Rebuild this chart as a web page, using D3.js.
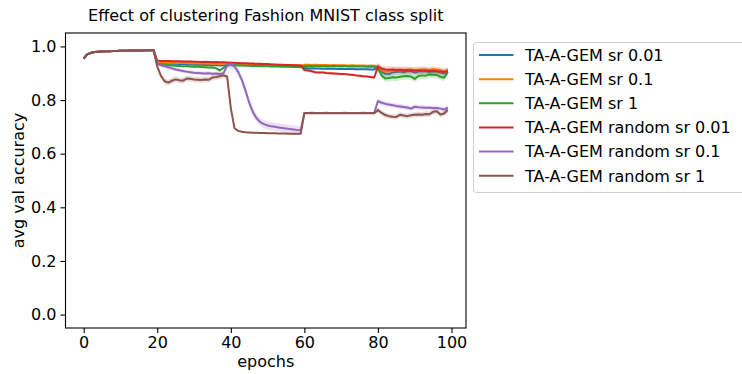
<!DOCTYPE html>
<html>
<head>
<meta charset="utf-8">
<script src="https://cdn.jsdelivr.net/npm/d3@7"></script>
<style>
  body { margin: 0; background: #fff; }
  svg { font-family: "DejaVu Sans", sans-serif; }
</style>
</head>
<body>
<div id="chart"></div>
<script>
// ---- data ----
const epochs = d3.range(0, 100);
const seriesNames = [
  "TA-A-GEM sr 0.01",
  "TA-A-GEM sr 0.1",
  "TA-A-GEM sr 1",
  "TA-A-GEM random sr 0.01",
  "TA-A-GEM random sr 0.1",
  "TA-A-GEM random sr 1"
];
const seriesColors = ["#1f77b4", "#ff7f0e", "#2ca02c", "#d62728", "#9467bd", "#8c564b"];

// first task, identical for all runs
const firstTask = [0.955, 0.971, 0.976, 0.979, 0.980, 0.981, 0.982, 0.982, 0.983, 0.983,
                   0.984, 0.984, 0.984, 0.985, 0.985, 0.985, 0.985, 0.986, 0.986, 0.986];

const srSmall = firstTask.concat([
  0.938, 0.937, 0.936, 0.936, 0.935, 0.935, 0.934, 0.934, 0.933, 0.933, 0.932, 0.932, 0.932, 0.931, 0.931, 0.930, 0.931, 0.929, 0.930, 0.933,
  0.934, 0.933, 0.933, 0.932, 0.932, 0.931, 0.931, 0.930, 0.930, 0.930, 0.929, 0.929, 0.929, 0.928, 0.928, 0.928, 0.927, 0.927, 0.927, 0.926,
  0.920, 0.918, 0.919, 0.918, 0.918, 0.917, 0.918, 0.917, 0.917, 0.916, 0.917, 0.916, 0.916, 0.916, 0.915, 0.915, 0.915, 0.915, 0.914, 0.914,
  0.922, 0.905, 0.898, 0.897, 0.903, 0.905, 0.906, 0.904, 0.907, 0.908, 0.902, 0.906, 0.908, 0.907, 0.905, 0.907, 0.906, 0.903, 0.900, 0.905
]);
const srMid = firstTask.concat([
  0.941, 0.940, 0.940, 0.939, 0.939, 0.939, 0.938, 0.938, 0.938, 0.937, 0.937, 0.937, 0.936, 0.936, 0.936, 0.935, 0.936, 0.934, 0.935, 0.937,
  0.936, 0.935, 0.935, 0.934, 0.934, 0.934, 0.933, 0.933, 0.933, 0.932, 0.932, 0.932, 0.931, 0.931, 0.931, 0.930, 0.930, 0.930, 0.929, 0.929,
  0.932, 0.932, 0.931, 0.932, 0.931, 0.931, 0.931, 0.930, 0.931, 0.930, 0.930, 0.930, 0.929, 0.930, 0.929, 0.929, 0.929, 0.928, 0.929, 0.928,
  0.925, 0.912, 0.905, 0.908, 0.910, 0.912, 0.910, 0.913, 0.911, 0.914, 0.908, 0.912, 0.914, 0.913, 0.911, 0.915, 0.913, 0.910, 0.906, 0.912
]);
const srOne = firstTask.concat([
  0.934, 0.932, 0.931, 0.930, 0.929, 0.928, 0.927, 0.926, 0.926, 0.925, 0.924, 0.924, 0.923, 0.922, 0.921, 0.921, 0.919, 0.910, 0.920, 0.929,
  0.931, 0.930, 0.929, 0.929, 0.928, 0.928, 0.927, 0.927, 0.926, 0.926, 0.926, 0.925, 0.925, 0.925, 0.924, 0.924, 0.924, 0.923, 0.923, 0.922,
  0.927, 0.928, 0.927, 0.928, 0.927, 0.927, 0.927, 0.926, 0.927, 0.926, 0.926, 0.926, 0.925, 0.926, 0.925, 0.925, 0.925, 0.924, 0.925, 0.924,
  0.918, 0.892, 0.880, 0.882, 0.885, 0.884, 0.887, 0.889, 0.890, 0.888, 0.879, 0.890, 0.892, 0.891, 0.895, 0.894, 0.893, 0.887, 0.883, 0.905
]);
const randSmall = firstTask.concat([
  0.947, 0.946, 0.946, 0.946, 0.945, 0.945, 0.945, 0.944, 0.944, 0.944, 0.943, 0.943, 0.942, 0.943, 0.942, 0.941, 0.942, 0.941, 0.941, 0.940,
  0.939, 0.939, 0.938, 0.937, 0.937, 0.936, 0.936, 0.935, 0.935, 0.934, 0.934, 0.933, 0.933, 0.932, 0.932, 0.931, 0.931, 0.930, 0.930, 0.929,
  0.912, 0.910, 0.907, 0.904, 0.903, 0.903, 0.901, 0.900, 0.899, 0.898, 0.897, 0.897, 0.895, 0.894, 0.892, 0.891, 0.889, 0.888, 0.886, 0.884,
  0.925, 0.918, 0.914, 0.913, 0.914, 0.912, 0.913, 0.911, 0.912, 0.910, 0.911, 0.910, 0.909, 0.910, 0.908, 0.909, 0.907, 0.906, 0.905, 0.908
]);
const randMid = firstTask.concat([
  0.935, 0.930, 0.926, 0.922, 0.918, 0.914, 0.911, 0.908, 0.906, 0.904, 0.902, 0.901, 0.900, 0.899, 0.900, 0.898, 0.899, 0.897, 0.900, 0.928,
  0.932, 0.925, 0.905, 0.875, 0.835, 0.790, 0.755, 0.732, 0.718, 0.710, 0.705, 0.702, 0.700, 0.698, 0.696, 0.694, 0.692, 0.690, 0.688, 0.687,
  0.752, 0.752, 0.753, 0.752, 0.752, 0.752, 0.753, 0.752, 0.752, 0.752, 0.752, 0.753, 0.752, 0.752, 0.752, 0.752, 0.753, 0.752, 0.752, 0.752,
  0.796, 0.790, 0.786, 0.783, 0.781, 0.778, 0.776, 0.774, 0.772, 0.768, 0.775, 0.773, 0.772, 0.771, 0.771, 0.770, 0.770, 0.768, 0.765, 0.772
]);
const randOne = firstTask.concat([
  0.925, 0.890, 0.870, 0.865, 0.872, 0.877, 0.874, 0.872, 0.880, 0.879, 0.877, 0.876, 0.875, 0.877, 0.876, 0.884, 0.886, 0.889, 0.892, 0.888,
  0.770, 0.695, 0.685, 0.682, 0.680, 0.679, 0.678, 0.678, 0.677, 0.677, 0.676, 0.676, 0.676, 0.675, 0.675, 0.675, 0.674, 0.674, 0.674, 0.674,
  0.751, 0.751, 0.751, 0.751, 0.751, 0.751, 0.751, 0.751, 0.751, 0.751, 0.751, 0.751, 0.751, 0.751, 0.751, 0.751, 0.751, 0.751, 0.751, 0.751,
  0.763, 0.752, 0.744, 0.740, 0.738, 0.737, 0.745, 0.742, 0.740, 0.743, 0.745, 0.746, 0.745, 0.748, 0.747, 0.756, 0.758, 0.746, 0.750, 0.764
]);
const seriesValues = [srSmall, srMid, srOne, randSmall, randMid, randOne];

// spread of the shaded band, one value per task (20 epochs each)
const seriesSpread = [
  [0.001, 0.004, 0.003, 0.004, 0.012],
  [0.001, 0.004, 0.003, 0.003, 0.012],
  [0.001, 0.004, 0.003, 0.003, 0.013],
  [0.001, 0.003, 0.003, 0.005, 0.012],
  [0.001, 0.007, 0.015, 0.002, 0.009],
  [0.001, 0.011, 0.003, 0.002, 0.010]
];

const xTicks = [0, 20, 40, 60, 80, 100];
const yTicks = [0.0, 0.2, 0.4, 0.6, 0.8, 1.0];

// ---- layout ----
const W = 742, H = 374;
const plot = { left: 65.5, right: 466, top: 33, bottom: 328 };

const svg = d3.select("#chart").append("svg")
  .attr("width", W).attr("height", H);

const x = d3.scaleLinear().domain([-4.95, 103.95]).range([plot.left, plot.right]);
const y = d3.scaleLinear().domain([-0.05, 1.05]).range([plot.bottom, plot.top]);

// series lines + bands
const data = seriesNames.map((name, i) => ({
  name: name,
  color: seriesColors[i],
  points: epochs.map((e, j) => ({
    e: e,
    v: seriesValues[i][j],
    s: seriesSpread[i][Math.floor(j / 20)]
  }))
}));

const line = d3.line().x(d => x(d.e)).y(d => y(d.v));
const area = d3.area().x(d => x(d.e)).y0(d => y(d.v - d.s)).y1(d => y(d.v + d.s));

const marks = svg.append("g")
  .attr("clip-path", "url(#clip)");
svg.append("clipPath").attr("id", "clip").append("rect")
  .attr("x", plot.left).attr("y", plot.top)
  .attr("width", plot.right - plot.left).attr("height", plot.bottom - plot.top);

data.forEach(d => {
  marks.append("path")
    .attr("d", line(d.points))
    .attr("fill", "none")
    .attr("stroke", d.color)
    .attr("stroke-width", 2)
    .attr("stroke-linejoin", "round");
  marks.append("path")
    .attr("d", area(d.points))
    .attr("fill", d.color)
    .attr("fill-opacity", 0.2)
    .attr("stroke", "none");
});

// axes
const xAxis = svg.append("g")
  .attr("transform", `translate(0,${plot.bottom})`)
  .call(d3.axisBottom(x).tickValues(xTicks).tickFormat(d3.format("d")).tickSize(5).tickPadding(4));
const yAxis = svg.append("g")
  .attr("transform", `translate(${plot.left},0)`)
  .call(d3.axisLeft(y).tickValues(yTicks).tickFormat(d3.format(".1f")).tickSize(5).tickPadding(4));

[xAxis, yAxis].forEach(a => {
  a.select(".domain").remove();
  a.selectAll("line").attr("stroke", "#000").attr("stroke-width", 1.1);
  a.selectAll("text").attr("font-family", "DejaVu Sans").attr("font-size", 16).attr("fill", "#000");
});

// frame
svg.append("rect")
  .attr("x", plot.left).attr("y", plot.top)
  .attr("width", plot.right - plot.left).attr("height", plot.bottom - plot.top)
  .attr("fill", "none").attr("stroke", "#000").attr("stroke-width", 1.1);

// title + labels
svg.append("text")
  .attr("x", (plot.left + plot.right) / 2).attr("y", 21)
  .attr("text-anchor", "middle")
  .attr("font-size", 16)
  .text("Effect of clustering Fashion MNIST class split");

svg.append("text")
  .attr("x", (plot.left + plot.right) / 2).attr("y", 367)
  .attr("text-anchor", "middle")
  .attr("font-size", 16)
  .text("epochs");

svg.append("text")
  .attr("transform", `translate(24,${(plot.top + plot.bottom) / 2}) rotate(-90)`)
  .attr("text-anchor", "middle")
  .attr("font-size", 16)
  .text("avg val accuracy");

// legend
const legend = svg.append("g").attr("transform", "translate(473.5,42.5)");
legend.append("rect")
  .attr("width", 290).attr("height", 150)
  .attr("rx", 3)
  .attr("fill", "#fff").attr("fill-opacity", 0.8)
  .attr("stroke", "#d0d0d0").attr("stroke-width", 1);

data.forEach((d, i) => {
  const row = legend.append("g").attr("transform", `translate(0,${12.5 + i * 24.15})`);
  row.append("line")
    .attr("x1", 5.5).attr("x2", 40)
    .attr("stroke", d.color).attr("stroke-width", 2);
  row.append("text")
    .attr("x", 51.5).attr("dy", "0.36em")
    .attr("font-size", 16)
    .text(d.name);
});
</script>
</body>
</html>
